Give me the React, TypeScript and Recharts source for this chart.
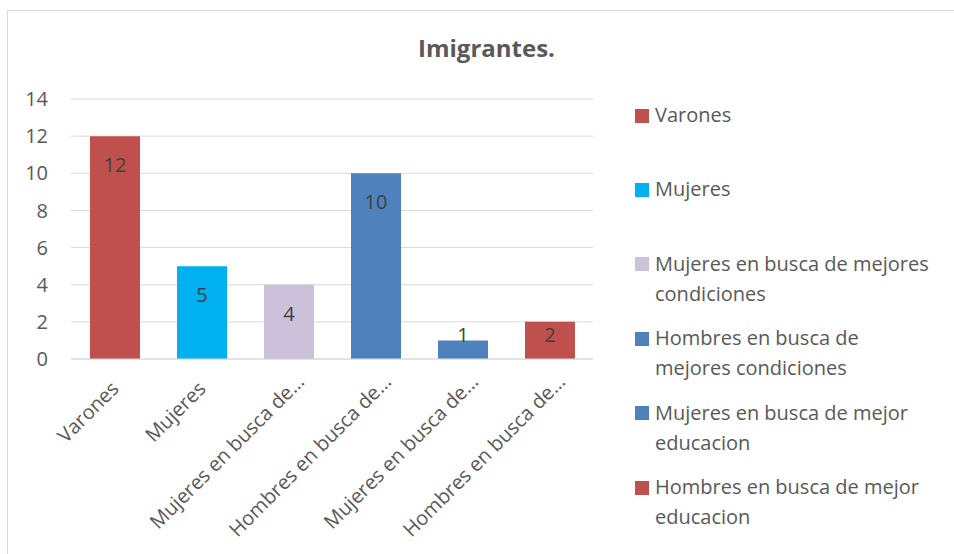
import React from "react";
import { BarChart, Bar, XAxis, YAxis, CartesianGrid, Cell, LabelList } from "recharts";

const categories = [
  "Varones",
  "Mujeres",
  "Mujeres en busca de mejores condiciones",
  "Hombres en busca de mejores condiciones",
  "Mujeres en busca de mejor educacion",
  "Hombres en busca de mejor educacion",
];
const tickLabels = [
  "Varones",
  "Mujeres",
  "Mujeres en busca de…",
  "Hombres en busca de…",
  "Mujeres en busca de…",
  "Hombres en busca de…",
];
const values = [12, 5, 4, 10, 1, 2];
const colors = ["#C0504D", "#00B0F0", "#CCC1DA", "#4F81BD", "#4F81BD", "#C0504D"];
const yTicks = [0, 2, 4, 6, 8, 10, 12, 14];
const title = "Imigrantes.";

const data = categories.map((c, i) => ({ name: c, tick: tickLabels[i], value: values[i] }));

const FONT = "'Open Sans', 'DejaVu Sans', sans-serif";
const TEXT = "#595959";

const XTick = (props: any) => {
  const { x, y, payload } = props;
  const label = tickLabels[payload.index] ?? payload.value;
  const trunc = label.endsWith("…");
  const ex = x + (trunc ? 17 : 5.5);
  const ey = y + (trunc ? 24 : 31);
  return (
    <text
      x={ex}
      y={ey}
      textAnchor="end"
      transform={`rotate(-45, ${ex}, ${ey})`}
      fill={TEXT}
      fontSize={20}
      fontFamily={FONT}
    >
      {label}
    </text>
  );
};

const renderLabel = (props: any) => {
  const { x, y, width, height, value } = props;
  const cy = Math.min(y + 28.5, y + height - 25);
  return (
    <text
      x={x + width / 2}
      y={cy}
      textAnchor="middle"
      dominantBaseline="central"
      fill="#404040"
      fontSize={20}
      fontFamily={FONT}
    >
      {value}
    </text>
  );
};

export default function App() {
  return (
    <div
      style={{
        position: "absolute",
        left: 0,
        top: 0,
        width: 954,
        height: 554,
        overflow: "hidden",
        background: "#fff",
        fontFamily: FONT,
      }}
    >
      <div
        style={{
          position: "absolute",
          left: 7,
          top: 10,
          width: 1000,
          height: 600,
          border: "1px solid #D9D9D9",
          boxSizing: "border-box",
        }}
      />
      <div
        style={{
          position: "absolute",
          left: 0,
          width: 973,
          top: 33,
          textAlign: "center",
          fontSize: 24,
          fontWeight: 700,
          color: TEXT,
          lineHeight: "30px",
        }}
      >
        {title}
      </div>
      <div style={{ position: "absolute", left: 0, top: 0 }}>
        <BarChart width={954} height={554} data={data} margin={{ top: 99, right: 361, bottom: 0, left: 0 }}>
          <CartesianGrid vertical={false} stroke="#D9D9D9" strokeWidth={1} />
          <XAxis
            dataKey="name"
            axisLine={{ stroke: "#D9D9D9", strokeWidth: 1 }}
            tickLine={false}
            tickSize={0}
            tickMargin={0}
            height={195}
            interval={0}
            tick={<XTick />}
          />
          <YAxis
            domain={[0, 14]}
            ticks={yTicks}
            width={71}
            axisLine={false}
            tickLine={false}
            tickSize={0}
            tickMargin={23}
            tick={{ fill: TEXT, fontSize: 20, fontFamily: FONT }}
          />
          <Bar dataKey="value" barSize={50} isAnimationActive={false}>
            {data.map((d, i) => (
              <Cell key={d.name + i} fill={colors[i]} />
            ))}
            <LabelList dataKey="value" content={renderLabel} />
          </Bar>
        </BarChart>
      </div>
      <div style={{ position: "absolute", left: 635, top: 92 }}>
        {categories.map((c, i) => (
          <div
            key={c + i}
            style={{ position: "absolute", left: 0, top: i * 74.4, width: 300, display: "flex" }}
          >
            <div
              style={{
                width: 14,
                height: 14,
                background: colors[i],
                marginTop: 16.5,
                flex: "none",
              }}
            />
            <div
              style={{
                marginLeft: 6,
                width: 280,
                fontSize: 20,
                lineHeight: "30px",
                color: TEXT,
                paddingTop: 8,
              }}
            >
              {c}
            </div>
          </div>
        ))}
      </div>
    </div>
  );
}
